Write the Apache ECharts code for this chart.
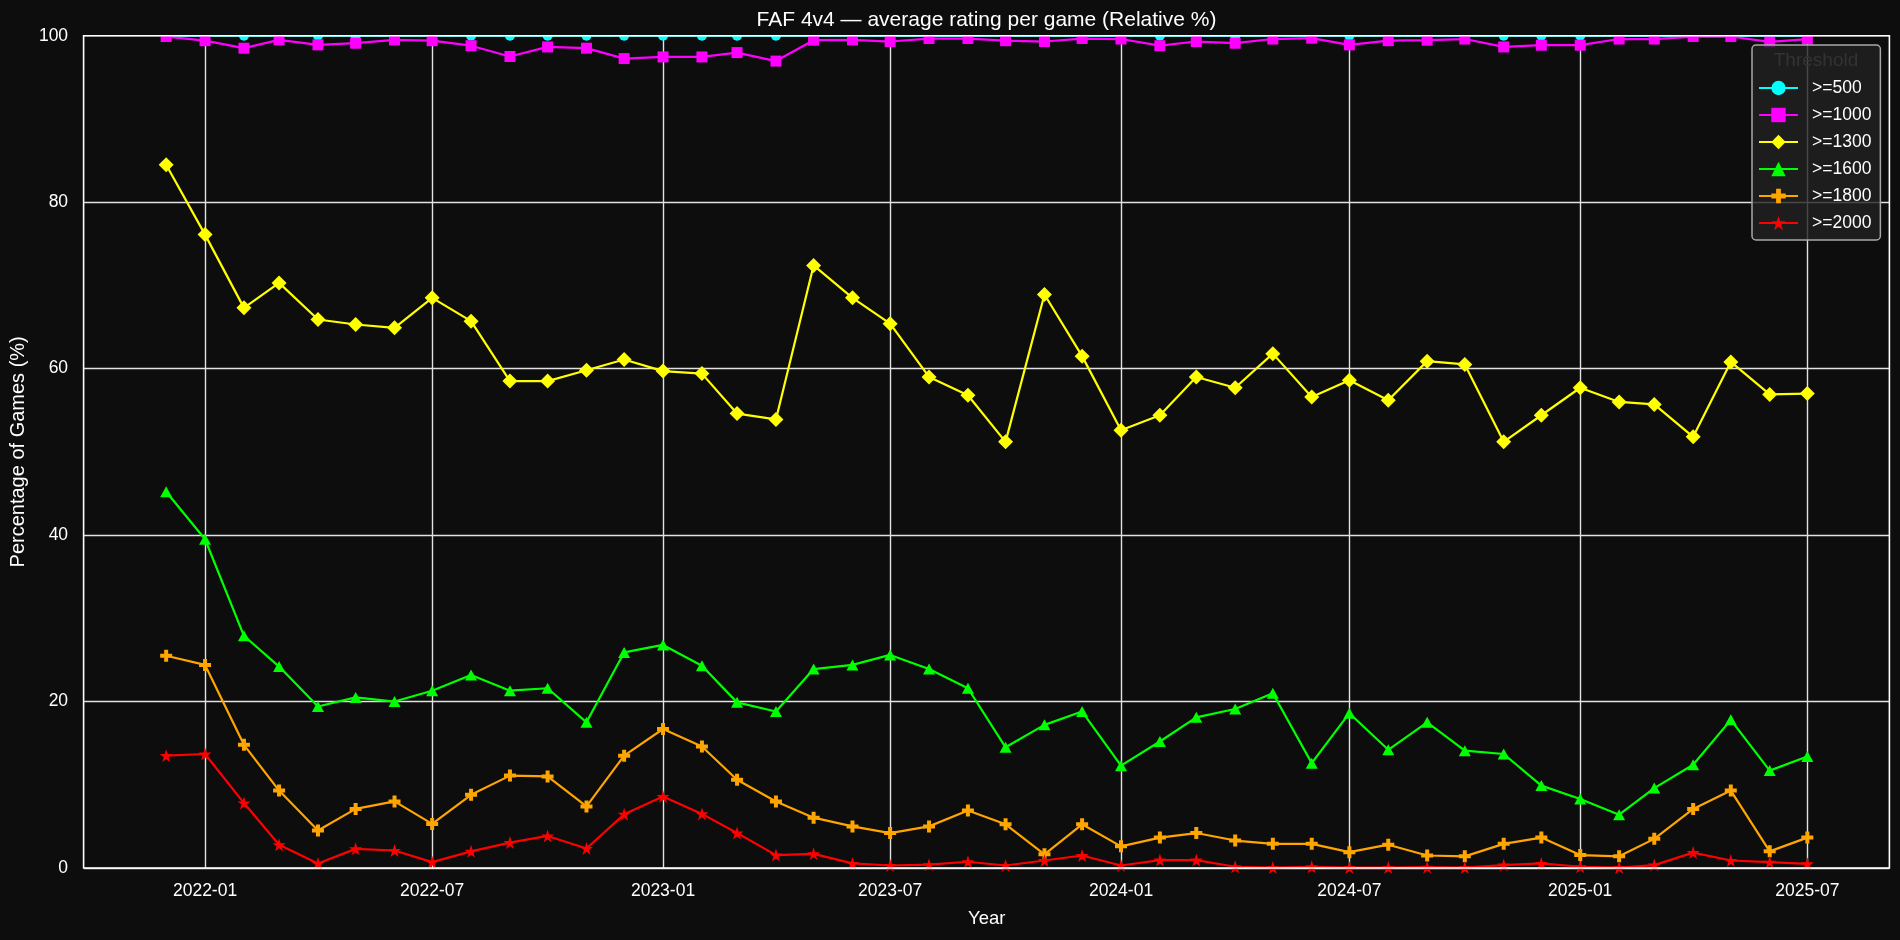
<!DOCTYPE html>
<html><head><meta charset="utf-8">
<script src="https://cdn.jsdelivr.net/npm/echarts@6/dist/echarts.min.js"></script>
<style>html,body{margin:0;padding:0;background:#0d0d0d}#c{width:1900px;height:940px}</style>
</head><body><div id="c"></div>
<script>
const months = ['2021-12','2022-01','2022-02','2022-03','2022-04','2022-05','2022-06','2022-07','2022-08','2022-09','2022-10','2022-11','2022-12',
  '2023-01','2023-02','2023-03','2023-04','2023-05','2023-06','2023-07','2023-08','2023-09','2023-10','2023-11','2023-12',
  '2024-01','2024-02','2024-03','2024-04','2024-05','2024-06','2024-07','2024-08','2024-09','2024-10','2024-11','2024-12',
  '2025-01','2025-02','2025-03','2025-04','2025-05','2025-06','2025-07'];
const tickLabels = ['2022-01','2022-07','2023-01','2023-07','2024-01','2024-07','2025-01','2025-07'];
const yTicks = [0,20,40,60,80,100];
const seriesNames = ['>=500','>=1000','>=1300','>=1600','>=1800','>=2000'];
const ge500 = [100,100,100,100,100,100,100,100,100,100,100,100,100,100,100,100,100,100,100,100,100,100,
  100,100,100,100,100,100,100,100,100,100,100,100,100,100,100,100,100,100,100,100,100,100];
const ge1000 = [99.9,99.4,98.5,99.5,98.9,99.1,99.5,99.4,98.8,97.5,98.65,98.5,97.25,97.45,97.45,97.97,96.95,
  99.46,99.5,99.3,99.66,99.66,99.4,99.3,99.66,99.6,98.8,99.3,99.1,99.6,99.7,98.9,99.4,
  99.46,99.6,98.65,98.86,98.86,99.6,99.6,99.9,99.9,99.26,99.6];
const ge1300 = [84.5,76.1,67.3,70.3,65.9,65.3,64.9,68.5,65.7,58.5,58.5,59.8,61.1,59.7,59.4,54.6,53.9,
  72.4,68.5,65.4,59.0,56.8,51.2,68.9,61.5,52.6,54.4,59.0,57.7,61.8,56.6,58.6,56.2,
  60.9,60.5,51.2,54.4,57.7,56.0,55.7,51.8,60.8,56.9,57.0];
const ge1600 = [45.2,39.5,27.9,24.2,19.4,20.5,20.0,21.3,23.2,21.3,21.6,17.5,25.9,26.8,24.3,19.9,18.8,
  23.9,24.4,25.6,23.9,21.6,14.5,17.2,18.8,12.3,15.2,18.1,19.1,21.0,12.6,18.6,14.2,
  17.5,14.1,13.7,9.9,8.3,6.4,9.6,12.4,17.8,11.7,13.4];
const ge1800 = [25.5,24.4,14.8,9.3,4.5,7.1,8.0,5.3,8.8,11.1,11.0,7.4,13.5,16.7,14.6,10.6,8.0,
  6.05,5.0,4.2,5.0,6.9,5.25,1.65,5.25,2.6,3.65,4.2,3.3,2.9,2.9,1.9,2.8,
  1.5,1.4,2.9,3.65,1.55,1.4,3.5,7.1,9.3,2.0,3.65];
const ge2000 = [13.5,13.7,7.8,2.8,0.55,2.3,2.1,0.7,2.0,3.05,3.85,2.35,6.45,8.6,6.5,4.2,1.55,
  1.7,0.55,0.3,0.4,0.75,0.3,0.9,1.5,0.3,0.95,0.95,0.15,0.05,0.15,0.05,0.05,
  0.1,0.05,0.35,0.55,0.15,0.05,0.35,1.85,0.9,0.7,0.5];

function toTime(s){const p=s.split('-');return new Date(+p[0], +p[1]-1, 1).getTime();}
const xs = months.map(toTime);
const tickTimes = tickLabels.map(toTime);
const span = xs[xs.length-1]-xs[0];
const xMin = xs[0]-span*0.05, xMax = xs[xs.length-1]+span*0.05;

const FONT = "'Liberation Sans', Arial, Helvetica, sans-serif";
const BG = '#0d0d0d';
const GRIDC = '#e2e2e2';
const G = {left:83.6, top:35.7, right:1889.4, bottom:868};

const STAR = 'path://M0,-1L-0.2245,-0.309L-0.951,-0.309L-0.363,0.118L-0.588,0.809L0,0.382L0.588,0.809L0.363,0.118L0.951,-0.309L0.2245,-0.309Z';
const PLUS = 'path://M-1,-3H1V-1H3V1H1V3H-1V1H-3V-1H-1Z';
const styles = [
  {color:'#00ffff', symbol:'circle', size:10},
  {color:'#ff00ff', symbol:'rect', size:11},
  {color:'#ffff00', symbol:'diamond', size:15},
  {color:'#00ff00', symbol:'triangle', size:[12,11]},
  {color:'#ffa500', symbol:PLUS, size:12},
  {color:'#ff0000', symbol:STAR, size:13}
];
const values = [ge500, ge1000, ge1300, ge1600, ge1800, ge2000];

const series = values.map((arr, k) => ({
  name: seriesNames[k],
  type: 'line',
  data: xs.map((t, i) => [t, arr[i]]),
  symbol: styles[k].symbol,
  symbolSize: styles[k].size,
  showSymbol: true,
  showAllSymbol: true,
  lineStyle: {color: styles[k].color, width: 2.2},
  itemStyle: {color: styles[k].color, borderWidth: 0},
  emphasis: {disabled: true},
  clip: true,
  z: 2 + k * 0.01
}));

const chart = echarts.init(document.getElementById('c'), null, {renderer:'canvas'});
chart.setOption({
  animation: false,
  backgroundColor: BG,
  textStyle: {fontFamily: FONT},
  title: [
    {text: 'FAF 4v4 \u2014 average rating per game (Relative %)', left: (G.left+G.right)/2, top: 20,
     textAlign: 'center', textVerticalAlign: 'middle', padding: 0, z: 70,
     textStyle: {color:'#ffffff', fontSize: 21, fontWeight: 'normal', fontFamily: FONT}},
    {text: 'Threshold', left: 1816, top: 61, textAlign: 'center', textVerticalAlign: 'middle', padding: 0, z: 10,
     textStyle: {color:'#333333', fontSize: 19, fontWeight: 'normal', fontFamily: FONT}}
  ],
  grid: {left: G.left, top: G.top, right: 1900 - G.right, bottom: 940 - G.bottom, show: false},
  xAxis: {
    type: 'value', min: xMin, max: xMax,
    name: 'Year', nameLocation: 'middle', nameGap: 41,
    nameTextStyle: {color:'#ffffff', fontSize: 18.5, fontFamily: FONT},
    axisLine: {show: false},
    axisTick: {show: false, customValues: tickTimes},
    axisLabel: {customValues: tickTimes, color:'#ffffff', fontSize: 17.5, margin: 14, fontFamily: FONT,
      formatter: v => { const d = new Date(v); return d.getFullYear() + '-' + String(d.getMonth()+1).padStart(2,'0'); }},
    splitLine: {show: true, lineStyle: {color: GRIDC, width: 1.4}}
  },
  yAxis: {
    type: 'value', min: 0, max: 100, interval: 20,
    name: 'Percentage of Games (%)', nameLocation: 'middle', nameGap: 52,
    nameTextStyle: {color:'#ffffff', fontSize: 20, fontFamily: FONT},
    axisLine: {show: false}, axisTick: {show: false},
    axisLabel: {color:'#ffffff', fontSize: 17.5, margin: 16, fontFamily: FONT},
    splitLine: {show: true, lineStyle: {color: GRIDC, width: 1.4}}
  },
  legend: {
    data: seriesNames, orient: 'vertical', left: 1752, top: 45,
    padding: [34, 9, 8, 6], itemWidth: 39, itemHeight: 18, itemGap: 9,
    textStyle: {color:'#ffffff', fontSize: 17.5, lineHeight: 18, padding: [0,0,0,9], fontFamily: FONT},
    backgroundColor: 'rgba(34,34,34,0.8)', borderColor: '#a8a8a8', borderWidth: 1.5, borderRadius: 4,
    selectedMode: false, z: 4
  },
  graphic: [
    {type:'rect', silent:true, z: 50, shape:{x:G.left-2, y:0, width:G.right-G.left+4, height:G.top}, style:{fill:BG}},
    {type:'rect', silent:true, z: 60, shape:{x:G.left, y:G.top, width:G.right-G.left, height:G.bottom-G.top},
     style:{fill:'none', stroke:'#ffffff', lineWidth:1.6}}
  ],
  series: series
});
</script></body></html>
